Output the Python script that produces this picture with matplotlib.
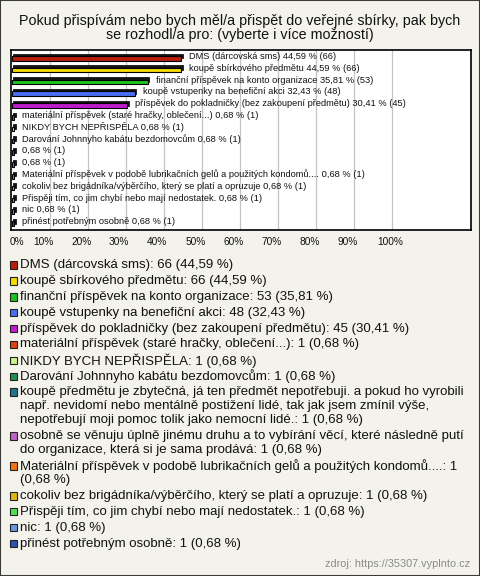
"""Survey bar chart: how respondents would contribute to a public collection."""
import textwrap

import matplotlib
matplotlib.use("Agg")
import matplotlib.pyplot as plt
from matplotlib.patches import Rectangle

plt.rcParams["font.family"] = ["Liberation Sans", "DejaVu Sans"]

TITLE = ("Pokud přispívám nebo bych měl/a přispět do veřejné sbírky, pak bych "
         "se rozhodl/a pro: (vyberte i více možností)")

names = [
    "DMS (dárcovská sms)",
    "koupě sbírkového předmětu",
    "finanční příspěvek na konto organizace",
    "koupě vstupenky na benefiční akci",
    "příspěvek do pokladničky (bez zakoupení předmětu)",
    "materiální příspěvek (staré hračky, oblečení...)",
    "NIKDY BYCH NEPŘISPĚLA",
    "Darování Johnnyho kabátu bezdomovcům",
    "koupě předmětu je zbytečná, já ten předmět nepotřebuji. a pokud ho vyrobili "
    "např. nevidomí nebo mentálně postižení lidé, tak jak jsem zmínil výše, "
    "nepotřebují moji pomoc tolik jako nemocní lidé.",
    "osobně se věnuju úplně jinému druhu a to vybírání věcí, které následně putí "
    "do organizace, která si je sama prodává",
    "Materiální příspěvek v podobě lubrikačních gelů a použitých kondomů....",
    "cokoliv bez brigádníka/výběrčího, který se platí a opruzuje",
    "Přispěji tím, co jim chybí nebo mají nedostatek.",
    "nic",
    "přinést potřebným osobně",
]
counts = [66, 66, 53, 48, 45, 1, 1, 1, 1, 1, 1, 1, 1, 1, 1]
pcts = [44.59, 44.59, 35.81, 32.43, 30.41, 0.68, 0.68, 0.68, 0.68, 0.68,
        0.68, 0.68, 0.68, 0.68, 0.68]
colors = ["#b81e0c", "#f4dc00", "#1ec21e", "#4a6ef2", "#c01ccc", "#e0420e",
          "#c8f28c", "#1f9050", "#1f7890", "#c062c4", "#f07412", "#e2b412",
          "#52e052", "#7094e2", "#2f52b2"]
ticks = [0, 10, 20, 30, 40, 50, 60, 70, 80, 90, 100]

W, H = 480, 576
BG = "#f3f2eb"


def fmt(v):
    return f"{v:.2f}".replace(".", ",")


def fx(px):
    return px / W


def fy(py):
    return 1 - py / H


fig = plt.figure(figsize=(4.8, 5.76), dpi=100, facecolor=BG)
fig.patches.append(Rectangle((0, 0), 1, 1, transform=fig.transFigure,
                             facecolor="none", edgecolor="#3a3a3a",
                             linewidth=1.5))

# title
for i, line in enumerate(textwrap.wrap(TITLE, 68)):
    fig.text(0.5, fy(20.5 + i * 14.8), line, ha="center", va="center",
             fontsize=10.3, color="#111")

ax = fig.add_axes([fx(10.5), fy(230), fx(471 - 10.5), (230 - 50) / H])
ax.set_facecolor("white")
for s in ax.spines.values():
    s.set_color("black")
    s.set_linewidth(1.2)

rows = list(range(len(names)))
for t in ticks[1:]:
    ax.axvline(t, color="#c4c4c4", linewidth=0.9, zorder=0)

# pseudo-3D bars: dark top face offset, coloured front face
ax.barh([r - 0.14 for r in rows], pcts, left=0.4, height=0.4,
        color="#151515", edgecolor="#151515", linewidth=0.6, zorder=2)
ax.barh([r + 0.05 for r in rows], pcts, height=0.4, color=colors,
        edgecolor="black", linewidth=0.8, zorder=3)

for r, n, p, c in zip(rows, names, pcts, counts):
    lbl = f"{fmt(p)} % ({c})" if len(n) > 90 else f"{n} {fmt(p)} % ({c})"
    ax.text(p + 2.1, r - 0.1, lbl, ha="left", va="center", fontsize=6.7,
            color="#111", zorder=4)

ax.set_xlim(-0.28, 120.8)
ax.set_ylim(len(names) - 1 + 0.6, -0.65)
ax.set_xticks([])
ax.set_yticks([])

# percent labels under the plot box
for t in ticks:
    x_px = 11.5 + t * 3.805 + (5 if t == 0 else -6.5 if t < 100 else -2)
    fig.text(fx(x_px), fy(242), f"{t}%", ha="center", va="center",
             fontsize=7.3, color="#111")

# legend
y = 265.0
line_h, gap = 14.0, 1.9
for n, p, c, col in zip(names, pcts, counts, colors):
    lines = textwrap.wrap(f"{n}: {c} ({fmt(p)} %)", 76)
    fig.patches.append(Rectangle((fx(9.5), fy(y + 3.7)), fx(7.4), 7.4 / H,
                                 transform=fig.transFigure, facecolor=col,
                                 edgecolor="#222", linewidth=0.8))
    for i, line in enumerate(lines):
        fig.text(fx(20), fy(y + i * line_h), line, ha="left", va="center",
                 fontsize=9.5, color="#111")
    y += len(lines) * line_h + gap

fig.text(fx(470), fy(564), "zdroj: https://35307.vyplnto.cz", ha="right",
         va="center", fontsize=7.8, color="#8a8a8a")

fig.savefig("out.png", dpi=100, facecolor=BG)
